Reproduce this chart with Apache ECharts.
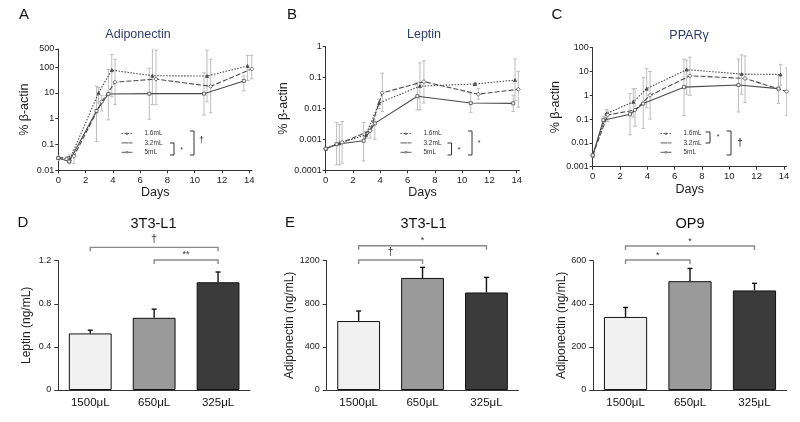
<!DOCTYPE html>
<html><head><meta charset="utf-8">
<script src="https://cdn.jsdelivr.net/npm/echarts@6/dist/echarts.min.js"></script>
<style>html,body{margin:0;padding:0;background:#fff}#c{width:800px;height:422px}</style>
</head><body><div id="c"></div>
<script>
// ---------- Data ----------
const seriesNames = ['1.6mL', '3.2mL', '5mL'];
const dayTicks = [0, 2, 4, 6, 8, 10, 12, 14];

// Panel A: Adiponectin (% beta-actin)
const a16_x = [0, 0.85, 2.95, 3.92, 6.9, 10.9, 13.88];
const a16_y = [0.03, 0.027, 10, 76, 46, 45, 110];
const a16_lo = [0.025, 0.02, 4, 7, 3.5, 4.5, 30];
const a16_hi = [0.035, 0.04, 16, 300, 700, 450, 280];
const a32_x = [0, 1.15, 3.18, 4.16, 7.16, 11.17, 14.18];
const a32_y = [0.03, 0.035, 4.5, 26, 34, 18, 84];
const a32_lo = [0.025, 0.018, 2, 3.5, 3.5, 1.7, 35];
const a32_hi = [0.035, 0.06, 8, 200, 450, 200, 280];
const a5_x = [0, 0.8, 2.8, 3.67, 6.67, 10.68, 13.6];
const a5_y = [0.03, 0.022, 2, 9, 9.3, 9.3, 29];
const a5_lo = [0.025, 0.018, 0.13, 0.9, 0.95, 1.4, 12];
const a5_hi = [0.035, 0.03, 18, 80, 90, 60, 45];

// Panel B: Leptin (% beta-actin)
const b16_x = [0, 1.0, 2.95, 3.91, 6.91, 10.95, 13.88];
const b16_y = [0.0005, 0.00075, 0.0014, 0.015, 0.053, 0.062, 0.083];
const b16_lo = [0.00045, 0.00015, 0.0011, 0.01, 0.009, 0.055, 0.018];
const b16_hi = [0.00055, 0.003, 0.0018, 0.02, 0.3, 0.07, 0.4];
const b32_x = [0, 1.2, 3.25, 4.15, 7.2, 11.19, 14.12];
const b32_y = [0.0005, 0.0008, 0.0019, 0.032, 0.074, 0.029, 0.042];
const b32_lo = [0.00045, 0.00017, 0.0011, 0.008, 0.015, 0.02, 0.011];
const b32_hi = [0.00055, 0.0038, 0.0026, 0.14, 0.35, 0.045, 0.16];
const b5_x = [0, 0.8, 2.78, 3.6, 6.72, 10.63, 13.75];
const b5_y = [0.0005, 0.0007, 0.0009, 0.0033, 0.025, 0.015, 0.0147];
const b5_lo = [0.00045, 0.00015, 0.0002, 0.001, 0.009, 0.0075, 0.008];
const b5_hi = [0.00055, 0.0035, 0.0035, 0.006, 0.07, 0.03, 0.027];

// Panel C: PPARgamma (% beta-actin)
const c16_x = [0, 1.0, 2.97, 3.95, 6.88, 10.9, 13.75];
const c16_y = [0.003, 0.17, 0.53, 1.9, 12, 7.8, 7.5];
const c16_lo = [0.0025, 0.1, 0.12, 0.3, 1.1, 1.1, 2.5];
const c16_hi = [0.0035, 0.25, 1.9, 13, 30, 50, 20];
const c32_x = [0, 1.1, 3.1, 4.2, 7.12, 11.15, 14.2];
const c32_y = [0.003, 0.15, 0.24, 1.0, 6.6, 5.1, 1.45];
const c32_lo = [0.0025, 0.08, 0.05, 0.1, 1.0, 0.5, 0.14];
const c32_hi = [0.0035, 0.22, 1.9, 10, 40, 45, 14];
const c5_x = [0, 0.78, 2.73, 3.7, 6.68, 10.67, 13.6];
const c5_y = [0.003, 0.09, 0.16, 0.45, 2.2, 2.7, 1.9];
const c5_lo = [0.0025, 0.06, 0.022, 0.04, 0.14, 0.2, 0.45];
const c5_hi = [0.0035, 0.13, 1.2, 5.5, 33, 33, 7];

// Bottom panels
const volumes = ['1500\u03bcL', '650\u03bcL', '325\u03bcL'];
const d_leptin = [0.525, 0.67, 1.0];
const d_sd = [0.03, 0.08, 0.095];
const e_adipo = [640, 1040, 905];
const e_sd = [93, 98, 140];
const f_adipo = [339, 505, 462];
const f_sd = [44, 59, 33];

// significance brackets: [from category, to category, level], label
const d_brackets = [[0, 2, 1.324], [1, 2, 1.207]];
const d_marks = ['\u2020', '**'];
const e_brackets = [[0, 2, 1339], [0, 1, 1206]];
const e_marks = ['*', '\u2020'];
const f_brackets = [[0, 2, 668], [0, 1, 603]];
const f_marks = ['*', '*'];

// ---------- Chart ----------
const FONT = 'Liberation Sans, Arial, sans-serif';
const LINE = '#4a4a4a';
const ERR = '#bdbdbd';
const AX = '#333';
const chart = echarts.init(document.getElementById('c'));

const grids = [
  {left: 58.3, top: 49, width: 193.7, height: 121.3},
  {left: 325.7, top: 46.7, width: 193.7, height: 123.6},
  {left: 592.7, top: 47.7, width: 194, height: 119},
  {left: 58.3, top: 260.7, width: 191.7, height: 129.3},
  {left: 326.7, top: 260.7, width: 191.7, height: 129.3},
  {left: 593.3, top: 260.7, width: 193.4, height: 129.3}
];

const topLog = [[0.01, 500], [0.0001, 1], [0.001, 100]];
const xAxes = [], yAxes = [];
for (let p = 0; p < 3; p++) {
  xAxes.push({
    type: 'value', gridIndex: p, min: 0, max: 14.2,
    name: 'Days', nameLocation: 'middle', nameGap: 16,
    nameTextStyle: {fontFamily: FONT, fontSize: 12.5, color: '#222'},
    axisLine: {lineStyle: {color: AX, width: 1}},
    axisTick: {show: true, length: 3, customValues: dayTicks, lineStyle: {color: AX}},
    axisLabel: {customValues: dayTicks, fontFamily: FONT, fontSize: 9.5, color: '#222', margin: 5},
    splitLine: {show: false}
  });
  yAxes.push({
    type: 'log', logBase: 10, gridIndex: p, min: topLog[p][0], max: topLog[p][1],
    name: '% \u03b2-actin', nameLocation: 'middle', nameRotate: 90, nameGap: 27,
    nameTextStyle: {fontFamily: FONT, fontSize: 12.5, color: '#222'},
    axisLine: {show: true, lineStyle: {color: AX, width: 1}},
    axisTick: {show: true, length: 3, lineStyle: {color: AX}},
    axisLabel: {fontFamily: FONT, fontSize: 9, color: '#222', margin: 4,
      formatter: v => String(+Number(v).toPrecision(3))},
    splitLine: {show: false}, minorTick: {show: false}
  });
}
const barY = [
  {max: 1.2, interval: 0.4, name: 'Leptin (ng/mL)'},
  {max: 1200, interval: 400, name: 'Adiponectin (ng/mL)'},
  {max: 600, interval: 200, name: 'Adiponectin (ng/mL)'}
];
for (let q = 0; q < 3; q++) {
  const g = q + 3;
  xAxes.push({
    type: 'category', gridIndex: g, data: volumes,
    axisLine: {lineStyle: {color: AX, width: 1}},
    axisTick: {show: false},
    axisLabel: {fontFamily: FONT, fontSize: 11.5, color: '#111', margin: 7}
  });
  yAxes.push({
    type: 'value', gridIndex: g, min: 0, max: barY[q].max, interval: barY[q].interval,
    name: barY[q].name, nameLocation: 'middle', nameRotate: 90, nameGap: 26,
    nameTextStyle: {fontFamily: FONT, fontSize: 12, color: '#222'},
    axisLine: {show: true, lineStyle: {color: AX, width: 1}},
    axisTick: {show: true, length: 4, lineStyle: {color: AX}},
    axisLabel: {fontFamily: FONT, fontSize: 9, color: '#222', margin: 7,
      formatter: v => String(+Number(v).toPrecision(4))},
    splitLine: {show: false}
  });
}

const series = [];
const topData = [
  [[a16_x, a16_y, a16_lo, a16_hi], [a32_x, a32_y, a32_lo, a32_hi], [a5_x, a5_y, a5_lo, a5_hi]],
  [[b16_x, b16_y, b16_lo, b16_hi], [b32_x, b32_y, b32_lo, b32_hi], [b5_x, b5_y, b5_lo, b5_hi]],
  [[c16_x, c16_y, c16_lo, c16_hi], [c32_x, c32_y, c32_lo, c32_hi], [c5_x, c5_y, c5_lo, c5_hi]]
];
const styles = [
  {symbol: 'triangle', size: 3, type: [1.5, 1.5], fill: LINE},
  {symbol: 'diamond', size: 4, type: [5, 2], fill: '#fff'},
  {symbol: 'rect', size: 3, type: 'solid', fill: '#fff'}
];
function errBar(params, api) {
  const x = api.value(0), lo = api.value(2), hi = api.value(3);
  const a = api.coord([x, lo]), b = api.coord([x, hi]);
  const c = 1.8;
  const st = {stroke: ERR, lineWidth: 1};
  return {type: 'group', children: [
    {type: 'line', shape: {x1: a[0], y1: a[1], x2: b[0], y2: b[1]}, style: st},
    {type: 'line', shape: {x1: a[0] - c, y1: a[1], x2: a[0] + c, y2: a[1]}, style: st},
    {type: 'line', shape: {x1: b[0] - c, y1: b[1], x2: b[0] + c, y2: b[1]}, style: st}
  ]};
}
for (let p = 0; p < 3; p++) {
  for (let s = 0; s < 3; s++) {
    const [xs, ys, lo, hi] = topData[p][s];
    series.push({
      type: 'custom', xAxisIndex: p, yAxisIndex: p, clip: true, z: 1, silent: true,
      data: xs.map((x, i) => [x, ys[i], lo[i], hi[i]]),
      encode: {x: 0, y: [2, 3]}, renderItem: errBar
    });
  }
  for (let s = 0; s < 3; s++) {
    const [xs, ys] = topData[p][s];
    const st = styles[s];
    series.push({
      type: 'line', name: seriesNames[s], xAxisIndex: p, yAxisIndex: p, z: 3,
      data: xs.map((x, i) => [x, ys[i]]),
      symbol: st.symbol, symbolSize: st.size, showSymbol: true,
      lineStyle: {color: LINE, width: 1.1, type: st.type},
      itemStyle: {color: st.fill, borderColor: LINE, borderWidth: 0.8}
    });
  }
}

const barVals = [d_leptin, e_adipo, f_adipo];
const barSd = [d_sd, e_sd, f_sd];
const brackets = [d_brackets, e_brackets, f_brackets];
const marks = [d_marks, e_marks, f_marks];
const fills = ['#f1f1f1', '#9a9a9a', '#3b3b3b'];
for (let q = 0; q < 3; q++) {
  const g = q + 3;
  series.push({
    type: 'bar', xAxisIndex: g, yAxisIndex: g, barWidth: '67%',
    data: barVals[q].map((v, i) => ({value: v, itemStyle: {color: fills[i]}})),
    itemStyle: {borderColor: '#111', borderWidth: 1}
  });
  series.push({
    type: 'custom', xAxisIndex: g, yAxisIndex: g, z: 3, silent: true,
    data: barVals[q].map((v, i) => [i, v, v + barSd[q][i]]),
    encode: {x: 0, y: [1, 2]},
    renderItem: (params, api) => {
      const a = api.coord([api.value(0), api.value(1)]);
      const b = api.coord([api.value(0), api.value(2)]);
      const st = {stroke: '#111', lineWidth: 1.4};
      return {type: 'group', children: [
        {type: 'line', shape: {x1: a[0], y1: a[1], x2: b[0], y2: b[1]}, style: st},
        {type: 'line', shape: {x1: b[0] - 2.5, y1: b[1], x2: b[0] + 2.5, y2: b[1]}, style: st}
      ]};
    }
  });
  const mk = marks[q];
  series.push({
    type: 'custom', xAxisIndex: g, yAxisIndex: g, z: 3, silent: true, clip: false,
    data: brackets[q], encode: {x: [0, 1], y: 2},
    renderItem: (params, api) => {
      const a = api.coord([api.value(0), api.value(2)]);
      const b = api.coord([api.value(1), api.value(2)]);
      const st = {stroke: '#8a8a8a', lineWidth: 1.4, fill: null};
      const txt = mk[params.dataIndex];
      const isStar = txt.indexOf('*') >= 0;
      return {type: 'group', children: [
        {type: 'polyline', shape: {points: [[a[0], a[1] + 4], [a[0], a[1]], [b[0], b[1]], [b[0], b[1] + 4]]}, style: st},
        {type: 'text', x: (a[0] + b[0]) / 2, y: a[1] - (isStar ? 5 : 8),
          style: {text: txt, font: (isStar ? '9px ' : '11px ') + FONT, fill: '#333', align: 'center', verticalAlign: 'middle'}}
      ]};
    }
  });
}

function txt(x, y, text, size, color, weight) {
  return {type: 'text', x: x, y: y, silent: true,
    style: {text: text, font: (weight || 'normal') + ' ' + size + 'px ' + FONT, fill: color || '#111', align: 'center', verticalAlign: 'middle'}};
}
function bracket(x1, x2, y1, y2) {
  return {type: 'polyline', silent: true, shape: {points: [[x1, y1], [x2, y1], [x2, y2], [x1, y2]]},
    style: {stroke: '#333', lineWidth: 1, fill: null}};
}
const graphics = [
  txt(24, 15, 'A', 15), txt(292, 15, 'B', 15), txt(557, 15, 'C', 15),
  txt(23, 223, 'D', 15), txt(290, 223, 'E', 15),
  txt(138, 35, 'Adiponectin', 12.5, '#2d3a6c'),
  txt(424, 35, 'Leptin', 12.5, '#2d3a6c'),
  txt(689, 36, 'PPAR\u03b3', 12.5, '#2d3a6c'),
  txt(153.5, 223.5, '3T3-L1', 14.5), txt(423.5, 224, '3T3-L1', 14.5), txt(690, 224, 'OP9', 14.5),
  // legend brackets A
  bracket(170, 174, 143, 155), txt(181.5, 150, '*', 7, '#333'),
  bracket(190, 194, 131, 155), txt(201.5, 141, '\u2020', 9, '#333'),
  // B
  bracket(447.5, 451.5, 143, 155), txt(459, 150, '*', 7, '#333'),
  bracket(468, 472, 131, 155), txt(479, 143, '*', 7, '#333'),
  // C
  bracket(705.5, 710, 132, 143), txt(718, 137.5, '*', 7, '#333'),
  bracket(726.5, 731, 131, 155), txt(740, 143, '\u2020', 10, '#333', 'bold')
];

const legendBase = {
  orient: 'vertical', itemWidth: 11, itemHeight: 2, itemGap: 2.4, selectedMode: false,
  padding: 0, data: seriesNames,
  itemStyle: {borderWidth: 0.6},
  lineStyle: {width: 0.9},
  textStyle: {fontFamily: FONT, fontSize: 6.5, lineHeight: 7, color: '#333', padding: [0, 0, 0, 7]}
};
const legends = [
  Object.assign({}, legendBase, {left: 121, top: 130}),
  Object.assign({}, legendBase, {left: 400, top: 130}),
  Object.assign({}, legendBase, {left: 660, top: 130})
];

chart.setOption({
  animation: false,
  backgroundColor: '#fff',
  grid: grids,
  xAxis: xAxes,
  yAxis: yAxes,
  legend: legends,
  series: series,
  graphic: graphics
});
</script>
</body></html>
